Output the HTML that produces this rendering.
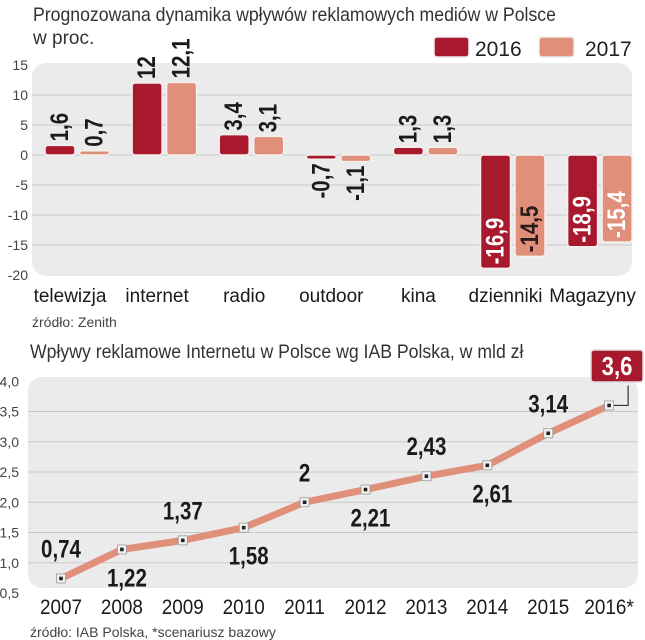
<!DOCTYPE html>
<html><head><meta charset="utf-8">
<style>
html,body{margin:0;padding:0;background:#fff;}
svg{display:block;font-family:"Liberation Sans",sans-serif;}
</style></head>
<body>
<svg id="c" width="645" height="640" viewBox="0 0 645 640"></svg>
<script>
// ---- top chart data ----
const categories = ["telewizja","internet","radio","outdoor","kina","dzienniki","Magazyny"];
const values2016 = [1.6, 12, 3.4, -0.7, 1.3, -18.9, -15.3];
const values2017 = [0.7, 12.1, 3.1, -1.1, 1.3, -16.9, -14.5];
const labels2016 = ["1,6","12","3,4","-0,7","1,3","-16,9","-18,9"];
const labels2017 = ["0,7","12,1","3,1","-1,1","1,3","-14,5","-15,4"];
const barTicks = [15,10,5,0,-5,-10,-15,-20];
// ---- bottom chart data ----
const years = ["2007","2008","2009","2010","2011","2012","2013","2014","2015","2016*"];
const revenue = [0.74, 1.22, 1.37, 1.58, 2, 2.21, 2.43, 2.61, 3.14, 3.6];
const revenueLabels = ["0,74","1,22","1,37","1,58","2","2,21","2,43","2,61","3,14","3,6"];
const lineTicks = [4.0,3.5,3.0,2.5,2.0,1.5,1.0,0.5];
const lineTickLabels = ["4,0","3,5","3,0","2,5","2,0","1,5","1,0","0,5"];

const NS="http://www.w3.org/2000/svg";
const svg=document.getElementById('c');
function mk(tag,attrs,parent,text){const e=document.createElementNS(NS,tag);for(const k in attrs)e.setAttribute(k,attrs[k]);if(text!==undefined)e.textContent=text;(parent||svg).appendChild(e);return e;}

const C16="#a8192e", C17="#e0907a";
// titles
let tg=mk('g',{transform:'translate(33,21) scale(0.93,1)'});
let t=mk('text',{x:0,y:0,'font-size':19,fill:'#333'},tg,"Prognozowana dynamika wpływów reklamowych mediów w Polsce");

t=mk('text',{x:33,y:44,'font-size':19,fill:'#333'},svg,"w proc.");

// legend
let r=mk('rect',{x:434,y:37,width:35,height:20,rx:3,fill:C16,stroke:'#eee','stroke-width':1.5});

t=mk('text',{x:475,y:56,'font-size':21,fill:'#222'},svg,"2016");

r=mk('rect',{x:539,y:37,width:35,height:20,rx:3,fill:C17,stroke:'#eee','stroke-width':1.5});

t=mk('text',{x:585,y:56,'font-size':21,fill:'#222'},svg,"2017");


// top axis
const y0=155, py=6;
function yb(v){return y0 - v*py;}
function xg(i){return 45 + i*87.1;}
r=mk('rect',{x:32,y:63,width:600,height:213,rx:14,fill:'#ebebeb'});

barTicks.forEach(v=>{
  if(v!==15 && v!==-20){const l=mk('line',{x1:32,x2:632,y1:yb(v),y2:yb(v),stroke:'#c9c9c9','stroke-width':1});
  }
  const tt=mk('text',{x:28,y:yb(v)+5,'font-size':14,fill:'#444','text-anchor':'end'},svg,String(v));
  
});
function vlabel(x,yEdge,v,label,inside,color){
  const g=mk('g',{});
  let ty, anchor;
  if(inside){ty=yEdge-4;anchor='start';}
  else if(v>=0){ty=yEdge-4;anchor='start';}
  else {ty=yEdge+4;anchor='end';}
  g.setAttribute('transform',`translate(${x+8},${ty}) rotate(-90) scale(0.82,1)`);
  const e=mk('text',{x:0,y:0,'font-size':25,'font-weight':'bold',fill:color,'text-anchor':anchor},g,label);
  
}
categories.forEach((c,i)=>{
  [[values2016,labels2016,C16,0],[values2017,labels2017,C17,1]].forEach(([vals,labs,col,k])=>{
    const v=vals[i], x=xg(i)+k*34.5, w=30;
    const top=Math.min(yb(v),y0), h=Math.max(Math.abs(v)*py,2);
    const b=mk('rect',{x:x,y:top,width:w,height:h,rx:3,fill:col,stroke:'#f6f0ee','stroke-width':1.5});
    
    const cx=x+w/2;
    if(v<-5){
      const txtCol = (k===1 && i===5)?'#2a1a1a':'#fff';
      vlabel(cx, yb(v), v, labs[i], true, txtCol);
    } else if(v>=0){ vlabel(cx, top, v, labs[i], false, '#1a1a1a'); }
    else { vlabel(cx, top+h, v, labs[i], false, '#1a1a1a'); }
  });
  const cl=mk('text',{x:xg(i)+25,y:302,'font-size':19,fill:'#1a1a1a','text-anchor':'middle'},svg,c);
  
});
t=mk('text',{x:32,y:327,'font-size':14,fill:'#444'},svg,"źródło: Zenith");


// bottom chart
tg=mk('g',{transform:'translate(30,358) scale(0.93,1)'});
t=mk('text',{x:0,y:0,'font-size':19,fill:'#333'},tg,"Wpływy reklamowe Internetu w Polsce wg IAB Polska, w mld zł");

r=mk('rect',{x:28,y:377,width:610,height:211,rx:14,fill:'#ebebeb'});

function yl(v){return 593 - (v-0.5)*60.5;}
function xl(i){return 61 + i*60.9;}
lineTicks.forEach((v,j)=>{
  if(v<4 && v>0.5){const l=mk('line',{x1:28,x2:638,y1:yl(v),y2:yl(v),stroke:'#c9c9c9','stroke-width':1});
  }
  const tt=mk('text',{x:19,y:yl(v)+5,'font-size':14,fill:'#444','text-anchor':'end'},svg,lineTickLabels[j]);
  
});
const pts=revenue.map((v,i)=>xl(i)+','+yl(v)).join(' ');
let pl=mk('polyline',{points:pts,fill:'none',stroke:C17,'stroke-width':7,'stroke-linejoin':'round','stroke-linecap':'round'});

const n=revenue.length;
const lx=xl(n-1), ly=yl(revenue[n-1]);
let cn=mk('polyline',{points:`${lx},${ly} ${lx+19},${ly} ${lx+19},${ly-20}`,fill:'none',stroke:'#333','stroke-width':1.2});

revenue.forEach((v,i)=>{
  const m=mk('rect',{x:xl(i)-4.5,y:yl(v)-4.5,width:9,height:9,fill:'#f2f2f2',stroke:'#999','stroke-width':0.8});
  
  const d=mk('rect',{x:xl(i)-1.8,y:yl(v)-1.8,width:3.6,height:3.6,fill:'#222'});
  
  const yr=mk('g',{transform:`translate(${xl(i)},614) scale(0.9,1)`});
  const ye=mk('text',{x:0,y:0,'font-size':21,fill:'#1a1a1a','text-anchor':'middle'},yr,years[i]);
  
  if(i===n-1){
    const bx=mk('rect',{x:591,y:350,width:52,height:32,rx:3,fill:C16,stroke:'#ddd','stroke-width':1.5});
    
    const g=mk('g',{transform:`translate(617,375) scale(0.85,1)`});
    const e=mk('text',{x:0,y:0,'font-size':26,'font-weight':'bold',fill:'#fff','text-anchor':'middle'},g,revenueLabels[i]);
    
  } else {
    const above=(i%2===0);
    const ty= above ? yl(v)-21 : yl(v)+37;
    const g=mk('g',{transform:`translate(${xl(i)+(above?0:5)},${ty}) scale(0.82,1)`});
    const e=mk('text',{x:0,y:0,'font-size':25,'font-weight':'bold',fill:'#1a1a1a','text-anchor':'middle'},g,revenueLabels[i]);
    
  }
});
t=mk('text',{x:30,y:637,'font-size':14,fill:'#444'},svg,"źródło: IAB Polska, *scenariusz bazowy");

</script>
</body></html>
